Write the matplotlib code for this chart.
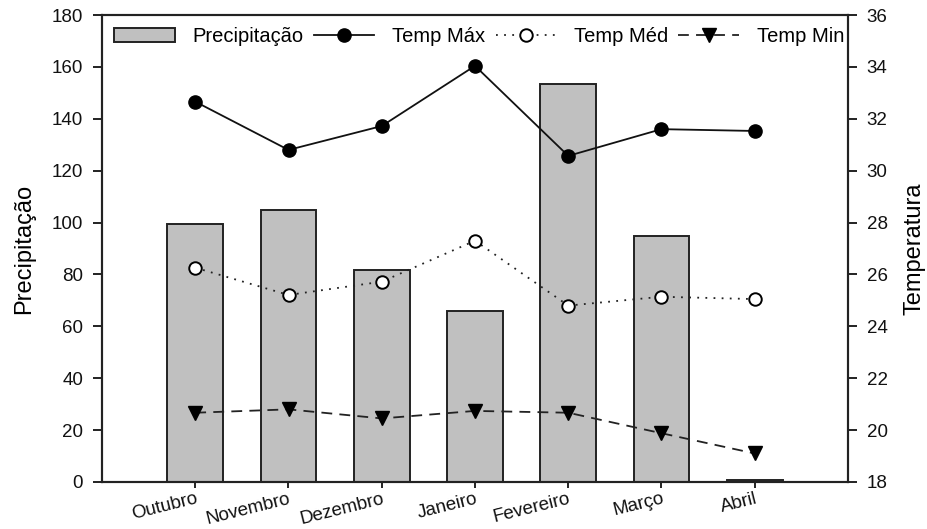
import matplotlib
matplotlib.use("Agg")
import matplotlib.pyplot as plt
import numpy as np

plt.rcParams['font.family'] = ['Liberation Sans', 'DejaVu Sans']

meses = ["Outubro", "Novembro", "Dezembro", "Janeiro", "Fevereiro", "Março", "Abril"]
precipitacao = [99.5, 105, 81.7, 66, 153.5, 95, 0.6]
temp_max = [32.66, 30.80, 31.72, 34.04, 30.57, 31.60, 31.53]
temp_med = [26.26, 25.21, 25.72, 27.30, 24.80, 25.14, 25.05]
temp_min = [20.67, 20.80, 20.45, 20.74, 20.67, 19.88, 19.10]

x = np.arange(1, len(meses) + 1)

fig = plt.figure(figsize=(9.28, 5.29), dpi=100)
ax = fig.add_axes([102 / 928, 47 / 529, 746 / 928, 467 / 529])
ax2 = ax.twinx()

bars = ax.bar(x, precipitacao, width=0.6, color="#c0c0c0", edgecolor="#222222",
              linewidth=1.4, label="Precipitação")
l1, = ax2.plot(x, temp_max, color="#111111", linestyle="-", linewidth=1.3,
               marker="o", markersize=9.5, markerfacecolor="black",
               markeredgecolor="black", label="Temp Máx")
l2, = ax2.plot(x, temp_med, color="#222222", linestyle=(0, (1, 3.5)), linewidth=1.3,
               marker="o", markersize=9, markerfacecolor="white",
               markeredgecolor="black", markeredgewidth=1.4, label="Temp Méd")
l3, = ax2.plot(x, temp_min, color="#222222", linestyle=(0, (6, 4)), linewidth=1.3,
               marker="v", markersize=10, markerfacecolor="black",
               markeredgecolor="black", label="Temp Min")

ax.set_xlim(0, 8)
ax.set_ylim(0, 180)
ax2.set_ylim(18, 36)
ax.set_yticks(np.arange(0, 181, 20))
ax2.set_yticks(np.arange(18, 37, 2))
ax.set_xticks(x)
ax.set_xticklabels(meses, rotation=14, ha="right", va="top", rotation_mode="anchor")

for a in (ax, ax2):
    for s in a.spines.values():
        s.set_linewidth(1.5)
        s.set_color("#222222")
    a.tick_params(axis="y", direction="out", length=6.5, width=1.3, labelsize=13.5,
                  colors="#111111", pad=7)
ax.tick_params(axis="x", direction="out", length=4.3, width=1.3, labelsize=13.5,
               colors="#111111", pad=1.5)

ax.set_ylabel("Precipitação", fontsize=17, labelpad=12)
ax2.set_ylabel("Temperatura", fontsize=17, labelpad=11)

leg = ax2.legend([bars, l1, l2, l3], ["Precipitação", "Temp Máx", "Temp Méd", "Temp Min"],
                 ncol=4, loc="upper left", bbox_to_anchor=(0.0, 1.0), frameon=False,
                 fontsize=14.5, handlelength=3.0, handletextpad=0.9, columnspacing=0.5,
                 borderaxespad=0.2)

fig.savefig("out.png", dpi=100)
